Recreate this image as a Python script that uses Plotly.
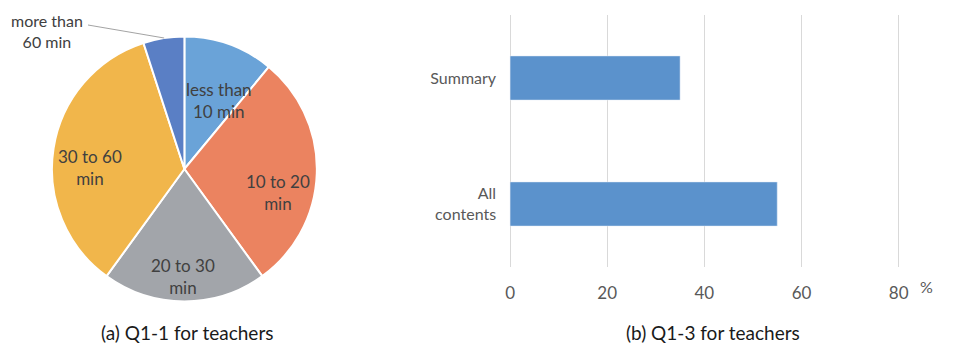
import math
import plotly.graph_objects as go

# Pie data (Q1-1)
pie_labels = ["less than<br>10 min", "10 to 20<br>min", "20 to 30<br>min", "30 to 60<br>min", "more than<br>60 min"]
pie_values = [11, 29, 20, 35, 5]
pie_colors = ["#6aa3d8", "#eb8360", "#a2a5aa", "#f1b64b", "#5a7fc5"]

# Bar data (Q1-3)
bar_categories = ["All<br>contents", "Summary"]
bar_values = [55, 35]
x_ticks = [0, 20, 40, 60, 80]

FONT = "Lato"
W, H = 959, 345

# pie geometry (pixels)
CX, CY, R = 183.5, 169, 134
# label placement style: (angle offset from slice middle in deg, radius fraction)
label_style = [(7, 0.58), (12, 0.73), (1, 0.81), (-8, 0.72)]

fig = go.Figure()

fig.add_trace(go.Pie(
    labels=pie_labels,
    values=pie_values,
    sort=False,
    direction="clockwise",
    rotation=0,
    marker=dict(colors=pie_colors, line=dict(color="white", width=2)),
    textinfo="none",
    domain=dict(x=[(CX - R) / W, (CX + R) / W], y=[(H - CY - R) / H, (H - CY + R) / H]),
    showlegend=False,
    hoverinfo="label+value",
))

fig.add_trace(go.Bar(
    y=bar_categories,
    x=bar_values,
    orientation="h",
    marker=dict(color="#5b92cc"),
    showlegend=False,
    xaxis="x", yaxis="y",
))

annotations = []
total = sum(pie_values)
cum = 0
for i, v in enumerate(pie_values):
    mid = (cum + v / 2) / total * 360
    cum += v
    if i < len(label_style):
        off, rf = label_style[i]
        a = math.radians(mid + off)
        px = CX + rf * 133 * math.sin(a)
        py = CY - rf * 133 * math.cos(a)
        annotations.append(dict(
            text=pie_labels[i], xref="paper", yref="paper",
            x=px / W, y=1 - py / H, xanchor="center", yanchor="middle",
            showarrow=False, font=dict(family=FONT, size=17, color="#404040")))

annotations += [
    dict(text="more than<br>60 min", xref="paper", yref="paper",
         x=45 / W, y=1 - 31 / H, xanchor="center", yanchor="middle", showarrow=False,
         font=dict(family=FONT, size=16, color="#404040")),
    dict(text="%", xref="paper", yref="paper", x=934 / W, y=1 - 286 / H,
         xanchor="center", yanchor="middle",
         showarrow=False, font=dict(family=FONT, size=16, color="#595959")),
    dict(text="(a) Q1-1 for teachers", xref="paper", yref="paper",
         x=186 / W, y=1 - 332 / H, xanchor="center", yanchor="middle", showarrow=False,
         font=dict(family=FONT, size=19, color="#1a1a1a")),
    dict(text="(b) Q1-3 for teachers", xref="paper", yref="paper",
         x=718 / W, y=1 - 332 / H, xanchor="center", yanchor="middle", showarrow=False,
         font=dict(family=FONT, size=19, color="#1a1a1a")),
]

fig.update_layout(
    width=W, height=H,
    margin=dict(l=0, r=0, t=0, b=0),
    paper_bgcolor="white",
    plot_bgcolor="white",
    bargap=0.65,
    font=dict(family=FONT, color="#595959"),
    xaxis=dict(
        domain=[511 / W, 908 / W],
        range=[-0.4, 80.4],
        tickvals=x_ticks,
        showgrid=True, gridcolor="#d9d9d9", gridwidth=1,
        zeroline=False, showline=False,
        tickfont=dict(family=FONT, size=17, color="#595959"),
        ticklabelstandoff=14,
        fixedrange=True,
    ),
    yaxis=dict(
        domain=[78 / H, 330 / H],
        categoryorder="array", categoryarray=bar_categories,
        showgrid=False, zeroline=False, showline=False,
        tickfont=dict(family=FONT, size=16, color="#595959"),
        ticklabelstandoff=11,
        fixedrange=True,
    ),
    annotations=annotations,
)

# leader line for the small slice label
fig.add_shape(type="line", xref="paper", yref="paper",
              x0=86 / W, y0=1 - 25 / H, x1=163 / W, y1=1 - 38 / H,
              line=dict(color="#8c8c8c", width=0.8))

fig.write_html("out.html")
